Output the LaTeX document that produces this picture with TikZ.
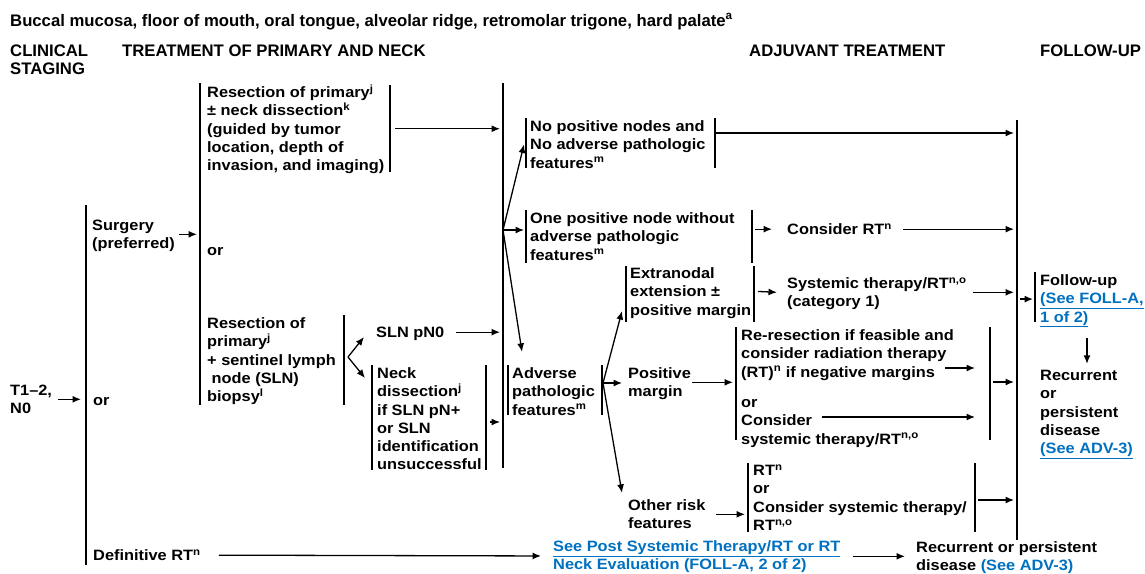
\documentclass[tikz,border=0pt]{standalone}
\usepackage{fontspec}
\newfontfamily\cuerpo[FakeStretch=1.09]{Liberation Sans}
\newfontfamily\titulo{Liberation Sans}
\usetikzlibrary{arrows.meta}
\definecolor{azul}{RGB}{0,112,192}
\newcommand{\puntal}{\rule[-3.8pt]{0pt}{18.2pt}}
\newcommand{\puntalcab}{\rule[-3pt]{0pt}{17.9pt}}

\begin{document}
\begin{tikzpicture}[x=1pt, y=-1pt,
    barra/.style={line width=1.3pt},
    flecha/.style={line width=1.3pt, -{Latex[length=8.5pt,width=7pt]}},
    texto/.style={anchor=north west, inner sep=0pt, align=left, yshift=9.15pt,
        font=\cuerpo\bfseries\fontsize{15}{18.3}\selectfont,
        execute at begin node=\puntal, execute at end node=\puntal},
    cabecera/.style={anchor=north west, inner sep=0pt, align=left, yshift=9pt,
        font=\titulo\bfseries\fontsize{16.7}{18}\selectfont,
        execute at begin node=\puntalcab, execute at end node=\puntalcab}
]

\def\xseg{1017} % barra de seguimiento
\def\xgr{503}   % barra central

\useasboundingbox (0,0) rectangle (1145,573);

% Cabeceras
\node[cabecera] (titulo) at (10,20) {Buccal mucosa, floor of mouth, oral tongue, alveolar ridge, retromolar trigone, hard palate\textsuperscript{a}};
\node[cabecera] (estadio) at (10,50) {\puntalcab CLINICAL\\STAGING};
\node[cabecera] (trat) at (122,50) {TREATMENT OF PRIMARY AND NECK};
\node[cabecera] (adyu) at (749,50) {ADJUVANT TREATMENT};
\node[cabecera] (segui) at (1040,50) {FOLLOW-UP};

% Tratamiento del primario y cuello
\node[texto] (t12) at (10,390) {\puntal T1–2,\\N0};
\node[texto] (cirugia) at (92,225) {\puntal Surgery\\(preferred)};
\node[texto] (o1) at (93,400) {or};
\node[texto] (defrt) at (93,555) {Definitive RT\textsuperscript{n}};
\node[texto] (resA) at (207,92) {\puntal Resection of primary\textsuperscript{j}\\± neck dissection\textsuperscript{k}\\(guided by tumor\\location, depth of\\invasion, and imaging)};
\node[texto] (o2) at (207,250) {or};
\node[texto] (resB) at (207,323) {\puntal Resection of\\primary\textsuperscript{j}\\+ sentinel lymph\\\ node (SLN)\\biopsy\textsuperscript{l}};
\node[texto] (sln) at (376,332) {SLN pN0};
\node[texto] (cuello) at (377,373) {\puntal Neck\\dissection\textsuperscript{j}\\if SLN pN+\\or SLN\\identification\\unsuccessful};

% Tratamiento adyuvante
\node[texto] (nopos) at (530,126) {\puntal No positive nodes and\\No adverse pathologic\\features\textsuperscript{m}};
\node[texto] (unpos) at (530,218) {\puntal One positive node without\\adverse pathologic\\features\textsuperscript{m}};
\node[texto] (consrt) at (787,229) {Consider RT\textsuperscript{n}};
\node[texto] (adverso) at (512,373) {\puntal Adverse\\pathologic\\features\textsuperscript{m}};
\node[texto] (extra) at (630,273) {\puntal Extranodal\\extension ±\\positive margin};
\node[texto] (sist) at (787,283) {\puntal Systemic therapy/RT\textsuperscript{n,o}\\(category 1)};
\node[texto] (margen) at (628,373) {\puntal Positive\\margin};
\node[texto] (rerres) at (741,335) {\puntal Re-resection if feasible and\\consider radiation therapy\\(RT)\textsuperscript{n} if negative margins};
\node[texto] (rerres2) at (741,402) {\puntal or\\Consider\\systemic therapy/RT\textsuperscript{n,o}};
\node[texto] (otro) at (628,505) {\puntal Other risk\\features};
\node[texto] (rt) at (753,470) {\puntal RT\textsuperscript{n}\\or\\Consider systemic therapy/\\RT\textsuperscript{n,o}};

% Seguimiento
\node[texto] (segui2) at (1040,280) {\puntal Follow-up\\\textcolor{azul}{\underline{(See FOLL-A,}}\\\textcolor{azul}{\underline{1 of 2)}}};
\node[texto] (recur) at (1040,375) {\puntal Recurrent\\or\\persistent\\disease\\\textcolor{azul}{\underline{(See ADV-3)}}};
\node[texto] (verpost) at (553,546) {\puntal\textcolor{azul}{\underline{See Post Systemic Therapy/RT or RT}}\\\textcolor{azul}{\underline{Neck Evaluation (FOLL-A, 2 of 2)}}};
\node[texto] (recur2) at (916,547) {\puntal Recurrent or persistent\\disease \textcolor{azul}{(See ADV-3)}};

% Barras verticales
\draw[barra] (86,205) coordinate (b1) -- (86,565);
\draw[barra] (200,83) coordinate (b2) -- (200,405);
\draw[barra] (390,85) coordinate (bA) -- (390,172);
\draw[barra] (344,315) coordinate (bB) -- (344,405);
\draw[barra] (372,365) -- (372,470);
\draw[barra] (486,365) coordinate (bC) -- (486,470);
\draw[barra] (\xgr,83) coordinate (bG) -- (\xgr,468);
\draw[barra] (526,118) -- (526,168);
\draw[barra] (715,118) coordinate (bNP) -- (715,168);
\draw[barra] (526,210) coordinate (bUP1) -- (526,263);
\draw[barra] (752,210) coordinate (bUP2) -- (752,263);
\draw[barra] (508,365) -- (508,415);
\draw[barra] (602,365) coordinate (bAD) -- (602,415);
\draw[barra] (626,266) -- (626,322);
\draw[barra] (754,266) coordinate (bEX) -- (754,322);
\draw[barra] (736,327) coordinate (bRR1) -- (736,440);
\draw[barra] (990,327) coordinate (bRR2) -- (990,440);
\draw[barra] (748,463) coordinate (bRT1) -- (748,532);
\draw[barra] (975,463) coordinate (bRT2) -- (975,532);
\draw[barra] (\xseg,120) coordinate (bF) -- (\xseg,540);
\draw[barra] (1035,272) coordinate (bF2) -- (1035,322);

% Puntos de union
\coordinate (horq) at (348,357);
\coordinate (cuelloS) at (490,422);
\coordinate (ab1) at (\xgr,230);
\coordinate (ab2) at (603,383);
\coordinate (np) at (715,133);
\coordinate (rr1) at (945,368);
\coordinate (rr2) at (822,417);
\coordinate (rr3) at (993,382);
\coordinate (rt3) at (978,500);

% Flechas: primario y cuello
\draw[flecha] ([xshift=6pt]t12.east) -- ([xshift=-5pt]b1 |- t12.east);
\draw[flecha] ([xshift=4pt]cirugia.east) -- ([xshift=-3pt]b2 |- cirugia.east);
\draw[flecha] ([xshift=18pt]defrt.east) -- ([xshift=-12pt]verpost.west);
\draw[flecha] ([xshift=5pt]bA |- resA.east) -- ([xshift=-3pt]bG |- resA.east);
\draw[flecha] (horq) -- ++(16,-20);
\draw[flecha] (horq) -- ++(17,21);
\draw[flecha] ([xshift=11pt]sln.east) -- ([xshift=-3pt]bG |- sln.east);
\draw[flecha] (cuelloS) -- ([xshift=-3pt]bG |- cuelloS);

% Flechas: adyuvante
\draw[flecha] (ab1) -- ([xshift=-6pt]nopos.west);
\draw[flecha] (ab1) -- ([xshift=-2pt]bUP1 |- ab1);
\draw[flecha] (ab1) -- ([shift={(10pt,12pt)}]adverso.north west);
\draw[flecha] (np) -- ([xshift=-3pt]bF |- np);
\draw[flecha] ([xshift=3pt]bUP2 |- consrt.west) -- ([xshift=-15pt]consrt.west);
\draw[flecha] ([xshift=11pt]consrt.east) -- ([xshift=-3pt]bF |- consrt.east);
\draw[flecha] (ab2) -- ([shift={(-8pt,8pt)}]extra.south west);
\draw[flecha] (ab2) -- ([xshift=-6pt]margen.west |- ab2);
\draw[flecha] (ab2) -- ([shift={(-6pt,3pt)}]otro.north west);
\draw[flecha] ([xshift=4pt]bEX |- extra.east) -- ([xshift=-10pt]sist.west);
\draw[flecha] ([xshift=6pt]sist.east) -- ([xshift=-3pt]bF |- sist.east);
\draw[flecha] ([xshift=1pt]margen.east) -- ([xshift=-3pt]bRR1 |- margen.east);
\draw[flecha] (rr1) -- ([xshift=-15pt]bRR2 |- rr1);
\draw[flecha] (rr2) -- ([xshift=-15pt]bRR2 |- rr2);
\draw[flecha] (rr3) -- ([xshift=-3pt]bF |- rr3);
\draw[flecha] ([xshift=10pt]otro.east) -- ([xshift=-3pt]bRT1 |- otro.east);
\draw[flecha] (rt3) -- ([xshift=-3pt]bF |- rt3);

% Flechas: seguimiento
\draw[flecha] ([xshift=3pt]bF |- segui2.west) -- ([xshift=-2pt]bF2 |- segui2.west);
\draw[flecha] ([shift={(47pt,-11pt)}]segui2.south west) -- ([shift={(47pt,2pt)}]recur.north west);
\draw[flecha] ([xshift=12pt]verpost.east |- recur2.west) -- ([xshift=-11pt]recur2.west);

\end{tikzpicture}
\end{document}
